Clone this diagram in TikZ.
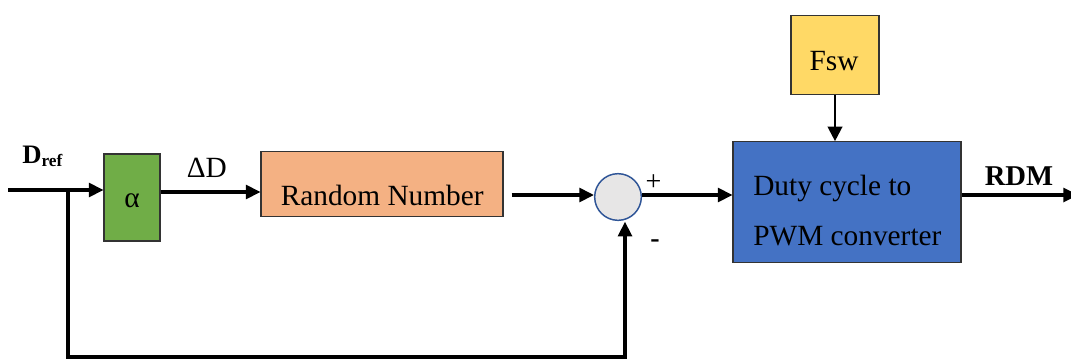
\documentclass[tikz,border=0pt]{standalone}
\usepackage{fontspec}
\setmainfont{Liberation Serif}
\usetikzlibrary{arrows.meta}
\definecolor{cgreen}{HTML}{70AD47}
\definecolor{corange}{HTML}{F4B183}
\definecolor{cblue}{HTML}{4472C4}
\definecolor{cyellow}{HTML}{FFD966}
\definecolor{cgray}{HTML}{E7E6E6}
\definecolor{cring}{HTML}{2F5597}
\begin{document}
\begin{tikzpicture}[x=0.75pt,y=-0.75pt,
  blk/.style={draw=black!80,line width=0.8pt,inner sep=0pt},
  txt/.style={font=\fontsize{22}{26}\selectfont,inner sep=0pt},
  wire/.style={line width=2.3pt,-{Triangle[length=11pt,width=10.5pt]}},
  thinwire/.style={line width=1.7pt,-{Triangle[length=11pt,width=11pt]}}]
\useasboundingbox (0,0) rectangle (1071,361);
% blocks
\node[blk,fill=cgreen,minimum width=42pt,minimum height=65.25pt] (a) at (132,197.5) {};
\node[txt,anchor=base] (alab) at (132,207) {α};
\node[blk,fill=corange,minimum width=181.5pt,minimum height=49pt] (r) at (382,184) {};
\node[txt,anchor=base] (rlab) at (382.2,205) {Random Number};
\node[circle,draw=cring,line width=1.1pt,fill=cgray,minimum size=35pt,inner sep=0pt] (c) at (618,197) {};
\node[blk,fill=cblue,minimum width=171pt,minimum height=90.75pt] (p) at (847,202.2) {};
\node[txt,anchor=base west] (pl1) at (753,195) {Duty cycle to};
\node[txt,anchor=base west] (pl2) at (753,245.5) {PWM converter};
\node[blk,fill=cyellow,minimum width=66pt,minimum height=59.25pt] (f) at (835,55) {};
\node[txt,anchor=base] (flab) at (834,70) {Fsw};
% labels
\node[anchor=base west,inner sep=0pt] (dref) at (22,163.5) {\fontsize{20}{24}\selectfont\textbf{D}\raisebox{-0.25ex}{\fontsize{13}{15}\selectfont\textbf{ref}}};
\node[txt,anchor=base west] (dd) at (186.5,177.7) {ΔD};
\node[anchor=base,inner sep=0pt] (rdm) at (1019,185) {\fontsize{21.5}{25}\selectfont\textbf{RDM}};
\node[anchor=base,inner sep=0pt] (plus) at (653.5,190) {\fontsize{21}{24}\selectfont +};
\node[anchor=base,inner sep=0pt] (minus) at (655,247) {\fontsize{21}{24}\selectfont\textbf{-}};
% coordinates
\coordinate (in) at (8,190);
\coordinate (br) at (68,190);
\coordinate (y192) at (0,192);
\coordinate (y195) at (0,195);
\coordinate (fb) at (625,357);
\coordinate (out) at (1078,195);
% connectors
\draw[wire] (in) -- (in -| a.west);
\draw[wire] (a.east |- y192) -- (r.west |- y192);
\draw[wire,shorten <=6pt] (r.east |- y195) -- (c.west |- y195);
\draw[wire] (c.east |- y195) -- (p.west |- y195);
\draw[wire] (p.east |- out) -- (out);
\draw[thinwire] (f.south) -- (f.south |- p.north);
\draw[wire,line join=miter] (br) |- (fb) -- ([yshift=-0.5pt]fb |- c.south);
\end{tikzpicture}
\end{document}
